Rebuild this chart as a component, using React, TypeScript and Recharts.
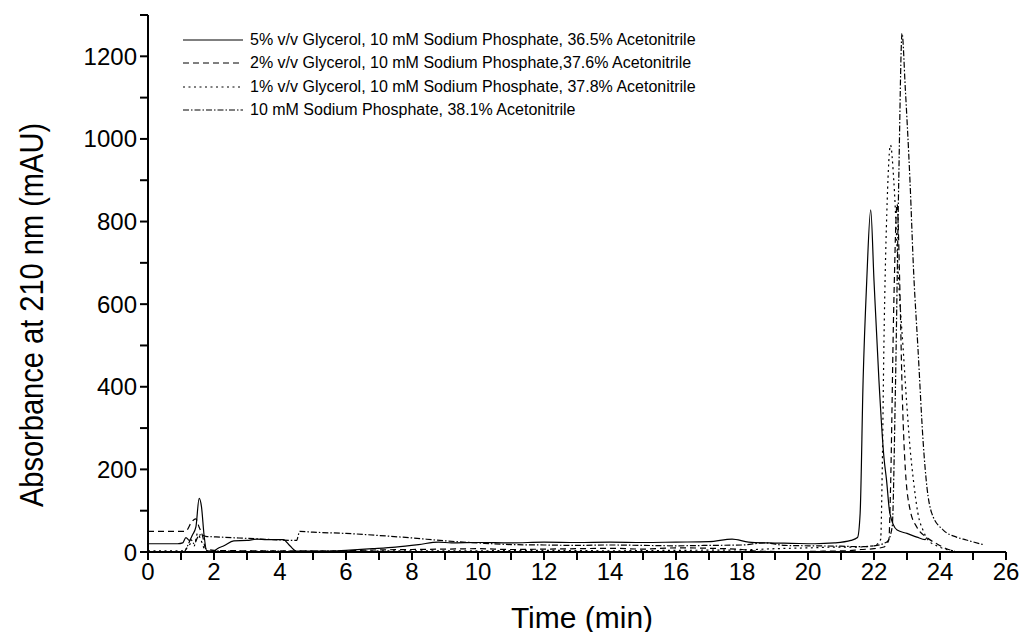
import React from "react";
import { LineChart, Line, XAxis, YAxis } from "recharts";

// [time (min), absorbance (mAU)]
const glycerol5: [number, number][] = [
  [0, 20], [0.9, 20], [1.05, 22], [1.15, 35], [1.25, 28], [1.35, 42], [1.45, 60],
  [1.55, 130], [1.62, 110], [1.7, 40], [1.78, 3], [2.0, 2], [2.1, 8], [2.3, 15],
  [2.6, 27], [3.0, 28], [3.3, 31], [3.6, 30], [4.1, 30], [4.3, 15], [4.5, 2],
  [5.5, 2], [6.0, 4], [6.8, 8], [7.5, 12], [8.2, 18], [8.8, 24], [9.2, 22],
  [10, 23], [11, 22], [12, 24], [13, 23], [14, 24], [15, 23], [16, 24], [17, 25],
  [17.7, 31], [18.2, 24], [18.8, 22], [19.5, 21], [20.2, 20], [20.8, 22], [21.3, 28],
  [21.5, 35], [21.58, 94], [21.67, 415], [21.78, 657], [21.9, 828], [22.0, 657],
  [22.15, 415], [22.3, 230], [22.38, 174], [22.48, 94], [22.7, 53], [23.0, 45],
  [23.3, 36], [23.55, 30], [23.6, 35],
];

const glycerol2: [number, number][] = [
  [0, 50], [1.1, 50], [1.2, 55], [1.3, 70], [1.45, 80], [1.55, 60], [1.65, 40],
  [1.75, 8], [2.0, 4], [3, 3], [4, 3], [5, 2], [6, 3], [7, 5], [8, 6], [9, 7],
  [10, 8], [11, 6], [12, 7], [13, 8], [14, 9], [15, 7], [16, 10], [17, 9], [18, 6],
  [18.5, 2], [19.5, 1], [20.5, 2], [21.2, 3], [21.6, 6], [22.0, 8], [22.3, 12],
  [22.45, 30], [22.5, 150], [22.6, 600], [22.7, 843], [22.78, 650], [22.85, 400],
  [22.95, 200], [23.1, 100], [23.3, 60], [23.6, 35], [23.9, 20], [24.2, 8], [24.45, 2],
];

const glycerol1: [number, number][] = [
  [0, 3], [1.1, 3], [1.2, 12], [1.3, 20], [1.4, 15], [1.5, 45], [1.6, 30], [1.75, 3],
  [2, 2], [4, 2], [6, 2], [8, 3], [10, 3], [12, 4], [14, 3], [16, 4], [18, 5],
  [19, 8], [20, 10], [21, 12], [21.5, 12], [22.0, 15], [22.2, 30], [22.25, 200],
  [22.3, 500], [22.4, 850], [22.5, 985], [22.6, 899], [22.75, 650], [22.88, 496],
  [23.0, 350], [23.09, 254], [23.2, 170], [23.33, 94], [23.5, 50], [23.64, 29],
  [23.9, 15], [24.2, 6], [24.5, 2],
];

const noGlycerol: [number, number][] = [
  [0, 1], [1.1, 1], [1.2, 15], [1.3, 30], [1.4, 20], [1.5, 35], [1.6, 42], [1.75, 38],
  [2.2, 36], [3, 33], [3.8, 30], [4.5, 28], [4.6, 50], [5.0, 48], [6.0, 45], [7.0, 40],
  [8.0, 34], [9.0, 27], [10, 22], [11, 18], [12, 17], [13, 16], [14, 17], [15, 16],
  [16, 15], [17, 16], [18, 17], [18.7, 22], [19.3, 16], [20, 15], [21, 14], [21.5, 13],
  [22.0, 15], [22.4, 25], [22.55, 60], [22.65, 400], [22.75, 900], [22.85, 1255],
  [22.95, 1120], [23.09, 899], [23.2, 680], [23.33, 496], [23.5, 254], [23.6, 160],
  [23.75, 94], [24.1, 53], [24.5, 36], [24.8, 29], [25.3, 18],
];

const seriesNames = [
  "5% v/v Glycerol, 10 mM Sodium Phosphate, 36.5% Acetonitrile",
  "2% v/v Glycerol, 10 mM Sodium Phosphate,37.6% Acetonitrile",
  "1% v/v Glycerol, 10 mM Sodium Phosphate, 37.8% Acetonitrile",
  "10 mM Sodium Phosphate, 38.1% Acetonitrile",
];
const seriesData = [glycerol5, glycerol2, glycerol1, noGlycerol];
const dashes = ["", "6 4", "2 3.5", "6 2 1.5 2"];

const xTicks = Array.from({ length: 27 }, (_, i) => i);
const yTicks = Array.from({ length: 14 }, (_, i) => i * 100);

const FONT = '"Liberation Sans", Arial, sans-serif';

const toPoints = (pairs: [number, number][]) => pairs.map(([t, a]) => ({ t, a }));

export default function App() {
  return (
    <div style={{ position: "absolute", left: 0, top: 0, width: 1023, height: 632, background: "#fff" }}>
      <LineChart
        width={1023}
        height={632}
        margin={{ top: 15, right: 17, left: 0, bottom: 30 }}
      >
        <XAxis
          type="number"
          dataKey="t"
          domain={[0, 26]}
          ticks={xTicks}
          interval={0}
          allowDataOverflow
          height={50}
          stroke="#000"
          strokeWidth={2}
          tickSize={8}
          tickMargin={3}
          tick={{ fill: "#000", fontSize: 24, fontFamily: FONT }}
          tickFormatter={(v: number) => (v % 2 === 0 ? String(v) : "")}
        />
        <YAxis
          type="number"
          dataKey="a"
          domain={[0, 1300]}
          ticks={yTicks}
          interval={0}
          allowDataOverflow
          width={148}
          stroke="#000"
          strokeWidth={2}
          tickSize={8}
          tickMargin={3}
          tick={{ fill: "#000", fontSize: 24, fontFamily: FONT }}
          tickFormatter={(v: number) => (v % 200 === 0 ? String(v) : "")}
        />
        {seriesData.map((d, i) => (
          <Line
            key={seriesNames[i]}
            data={toPoints(d)}
            dataKey="a"
            name={seriesNames[i]}
            type="monotoneX"
            stroke="#000"
            strokeWidth={1.2}
            strokeDasharray={dashes[i] || undefined}
            dot={false}
            activeDot={false}
            isAnimationActive={false}
          />
        ))}
      </LineChart>

      <div
        style={{
          position: "absolute",
          left: 0,
          top: 0,
          width: 64,
          height: 632,
          display: "flex",
          alignItems: "center",
          justifyContent: "center",
        }}
      >
        <div
          style={{
            transform: "rotate(-90deg) scaleX(0.88)",
            whiteSpace: "nowrap",
            fontFamily: FONT,
            fontSize: 33,
            marginTop: -3,
          }}
        >
          Absorbance at 210 nm (mAU)
        </div>
      </div>

      <div
        style={{
          position: "absolute",
          left: 153,
          width: 858,
          top: 601,
          textAlign: "center",
          fontFamily: FONT,
          fontSize: 30,
        }}
      >
        Time (min)
      </div>

      <div style={{ position: "absolute", left: 183, top: 28, fontFamily: FONT, fontSize: 16 }}>
        {seriesNames.map((name, i) => (
          <div key={name} style={{ display: "flex", alignItems: "center", height: 23.5 }}>
            <svg width={60} height={10} style={{ marginRight: 7 }}>
              <line
                x1={0}
                y1={5}
                x2={60}
                y2={5}
                stroke="#000"
                strokeWidth={1}
                strokeDasharray={dashes[i] || undefined}
              />
            </svg>
            <span>{name}</span>
          </div>
        ))}
      </div>
    </div>
  );
}
